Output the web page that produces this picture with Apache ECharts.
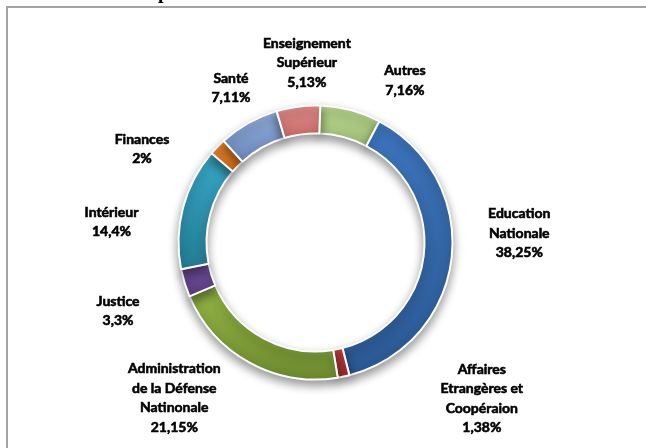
<!DOCTYPE html>
<html><head><meta charset="utf-8">
<script src="https://cdn.jsdelivr.net/npm/echarts@6/dist/echarts.min.js"></script>
<style>html,body{margin:0;padding:0;background:#fff}#c{width:646px;height:448px}</style>
</head><body><div id="c"></div>
<script>
// Data
var categories = ["Autres", "Education\nNationale", "Affaires\nEtrangères et\nCoopéraion", "Administration\nde la Défense\nNatinonale", "Justice", "Intérieur", "Finances", "Santé", "Enseignement\nSupérieur"];
var values = [7.16, 38.25, 1.38, 21.15, 3.3, 14.4, 2, 7.11, 5.13];

// Styles
var colorsTop = ['#b7d48f', '#3c74bb', '#c43c3e', '#95b545', '#7553a3', '#36a8c6', '#f28d2e', '#91addb', '#e08d8b'];
var colorsBot = ['#9dbc72', '#2b5892', '#9c2a2b', '#6c8a2e', '#573a7e', '#237a92', '#cf6717', '#6a86b7', '#c56866'];
// label placement relative to slice mid-angle: [angle tweak in deg, distance from centre in px]
var labelPlace = [[14, 185], [-9.4, 204], [-35, 228], [13.5, 210], [-2, 209], [-9, 205], [-16, 197], [0.6, 176], [4.5, 180]];
var CX = 315.5, CY = 242.5, START = 2; // start angle measured clockwise from 12 o'clock

var total = values.reduce(function (a, b) { return a + b; }, 0);
var mids = [];
(function () {
  var acc = 0;
  values.forEach(function (v) { mids.push(START + (acc + v / 2) / total * 360); acc += v; });
})();

var chart = echarts.init(document.getElementById('c'), null, {renderer: 'canvas'});
chart.setOption({
  animation: false,
  backgroundColor: '#fff',
  graphic: [
    {type: 'rect', shape: {x: 7, y: 7, width: 700, height: 500}, style: {fill: 'none', stroke: '#a3a3a3', lineWidth: 2}},
    {type: 'text', x: 158, y: -17, style: {text: 'p', font: 'bold 20px "Liberation Serif"', fill: '#000', verticalAlign: 'top'}}
  ],
  series: [{
    type: 'pie',
    center: [CX, CY],
    radius: [109, 137],
    startAngle: 90 - START,
    clockwise: true,
    avoidLabelOverlap: false,
    itemStyle: {borderColor: '#fff', borderWidth: 2, shadowBlur: 10, shadowOffsetY: 5, shadowColor: 'rgba(0,0,0,0.4)'},
    label: {
      show: true, position: 'outside', color: '#000',
      fontFamily: 'Lato', fontWeight: 'bold', fontSize: 14, lineHeight: 19.5,
      textBorderColor: '#000', textBorderWidth: 0.6,
      formatter: function (p) { return p.name + '\n' + String(p.value).replace('.', ',') + '%'; }
    },
    labelLine: {show: false},
    labelLayout: function (p) {
      var i = p.dataIndex;
      var a = (mids[i] + labelPlace[i][0]) * Math.PI / 180;
      var r = labelPlace[i][1];
      return {x: CX + r * Math.sin(a), y: CY - r * Math.cos(a), align: 'center', verticalAlign: 'middle'};
    },
    data: categories.map(function (n, i) {
      return {
        name: n, value: values[i],
        itemStyle: {color: new echarts.graphic.LinearGradient(0, 0, 0, 1, [{offset: 0, color: colorsTop[i]}, {offset: 1, color: colorsBot[i]}])}
      };
    })
  }]
});
</script></body></html>
